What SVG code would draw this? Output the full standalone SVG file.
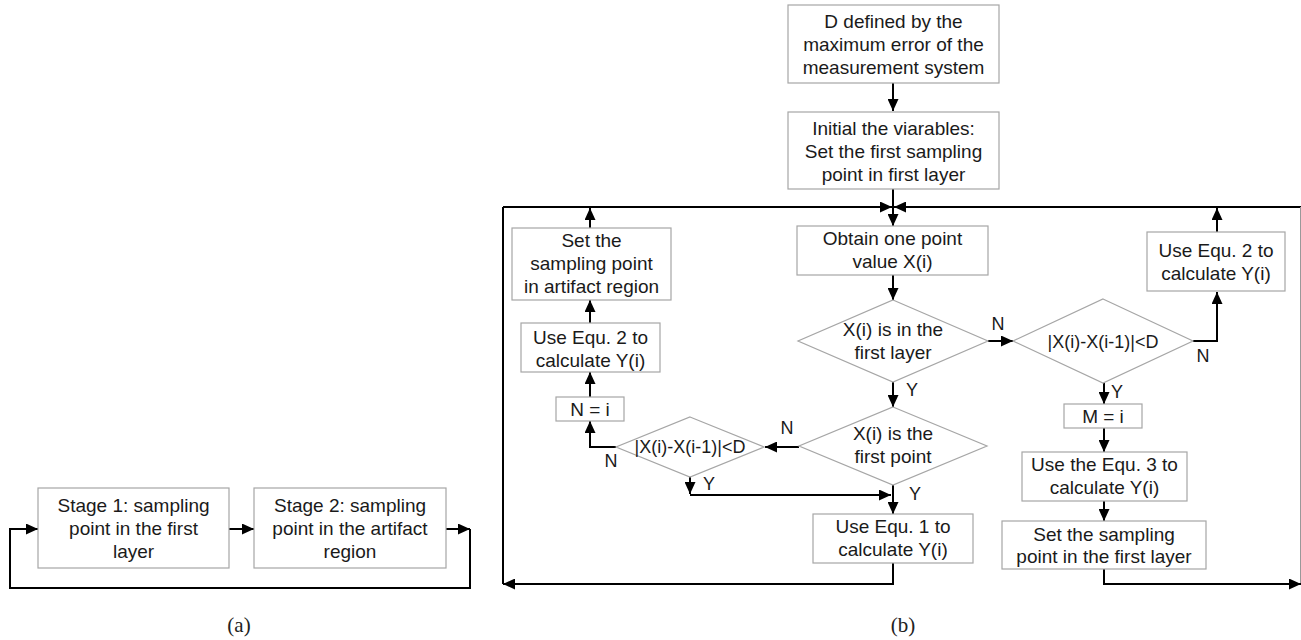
<svg xmlns="http://www.w3.org/2000/svg" width="1301" height="640" viewBox="0 0 1301 640">
<style>
.box{fill:#fff;stroke:#a6a6a6;stroke-width:1.2}
.t{font-family:"Liberation Sans",Arial,sans-serif;font-size:19px;fill:#1a1a1a;text-anchor:middle}
.ts{font-family:"Liberation Sans",Arial,sans-serif;font-size:18px;fill:#1a1a1a;text-anchor:middle}
.lb{font-family:"Liberation Sans",Arial,sans-serif;font-size:18px;fill:#1a1a1a;text-anchor:middle}
.cap{font-family:"Liberation Serif","Times New Roman",serif;font-size:21px;fill:#222;text-anchor:middle}
.c{fill:none;stroke:#000;stroke-width:2}
.ca{fill:none;stroke:#000;stroke-width:2;marker-end:url(#ah)}
</style>
<defs>
<marker id="ah" markerWidth="13" markerHeight="11" refX="12" refY="5.5" orient="auto" markerUnits="userSpaceOnUse">
<path d="M0,0 L12,5.5 L0,11 z" fill="#000"/>
</marker>
</defs>
<rect width="1301" height="640" fill="#fff"/>

<g id="connectors">
<!-- (a) -->
<path class="ca" d="M229,529 H254"/>
<path class="ca" d="M446,529 H470"/>
<path class="ca" d="M470,529 V588 H10 V529 H38"/>
<!-- (b) -->
<path class="ca" d="M893,83 V111"/>
<path class="ca" d="M893,189 V226"/>
<path class="ca" d="M503,207 H892"/>
<path class="ca" d="M1301,207 H894"/>
<path class="ca" d="M893,563 V584 H503"/>
<path class="c" d="M503,584 V207"/>
<line x1="1300.5" y1="207" x2="1300.5" y2="584" stroke="#999" stroke-width="1"/>
<path class="ca" d="M1104,569 V584 H1301"/>
<path class="ca" d="M893,275 V300"/>
<path class="ca" d="M988,341 H1013"/>
<path class="ca" d="M1193,341 H1217 V292"/>
<path class="ca" d="M1217,232 V208"/>
<path class="ca" d="M1104,383 V404"/>
<path class="ca" d="M1104,428 V452"/>
<path class="ca" d="M1104,501 V521"/>
<path class="ca" d="M893,382 V407"/>
<path class="ca" d="M799,447 H765"/>
<path class="ca" d="M893,485 V514"/>
<path class="ca" d="M616,447 H590 V421"/>
<path class="ca" d="M590,397 V372"/>
<path class="ca" d="M590,323 V300"/>
<path class="ca" d="M590,228 V208"/>
<path class="ca" d="M690,476 V494"/>
<path class="ca" d="M690,495 H891"/>
</g>

<g id="stage1">
<rect class="box" x="38" y="488" width="191" height="80"/>
<text class="t" x="133.5" y="511.5">Stage 1: sampling</text>
<text class="t" x="133.5" y="534.5">point in the first</text>
<text class="t" x="133.5" y="557.5">layer</text>
</g>
<g id="stage2">
<rect class="box" x="254" y="488" width="192" height="80"/>
<text class="t" x="350" y="511.5">Stage 2: sampling</text>
<text class="t" x="350" y="534.5">point in the artifact</text>
<text class="t" x="350" y="557.5">region</text>
</g>
<text class="cap" x="239" y="632">(a)</text>

<g id="defineD">
<rect class="box" x="788" y="5" width="211" height="78"/>
<text class="t" x="893.5" y="28">D defined by the</text>
<text class="t" x="893.5" y="51">maximum error of the</text>
<text class="t" x="893.5" y="74">measurement system</text>
</g>
<g id="init">
<rect class="box" x="788" y="112" width="211" height="77"/>
<text class="t" x="893.5" y="135">Initial the viarables:</text>
<text class="t" x="893.5" y="158">Set the first sampling</text>
<text class="t" x="893.5" y="181">point in first layer</text>
</g>
<g id="obtain">
<rect class="box" x="797" y="226" width="191" height="49"/>
<text class="t" x="892.5" y="245">Obtain one point</text>
<text class="t" x="892.5" y="268">value X(i)</text>
</g>
<g id="firstLayer">
<polygon class="box" points="893,300 988,341 893,382 798,341"/>
<text class="t" x="893" y="336">X(i) is in the</text>
<text class="t" x="893" y="358.5">first layer</text>
</g>
<g id="diffRight">
<polygon class="box" points="1103,299 1193,341 1103,383 1013,341"/>
<text class="ts" x="1103" y="348">|X(i)-X(i-1)|&lt;D</text>
</g>
<g id="equ2Right">
<rect class="box" x="1147" y="232" width="138" height="59"/>
<text class="t" x="1216" y="257">Use Equ. 2 to</text>
<text class="t" x="1216" y="280">calculate Y(i)</text>
</g>
<g id="mEqI">
<rect class="box" x="1064" y="404" width="78" height="24"/>
<text class="t" x="1103" y="423">M = i</text>
</g>
<g id="equ3">
<rect class="box" x="1022" y="452" width="165" height="49"/>
<text class="t" x="1104.5" y="471">Use the Equ. 3 to</text>
<text class="t" x="1104.5" y="494">calculate Y(i)</text>
</g>
<g id="setFirst">
<rect class="box" x="1002" y="521" width="204" height="48"/>
<text class="t" x="1104" y="540.5">Set the sampling</text>
<text class="t" x="1104" y="563">point in the first layer</text>
</g>
<g id="firstPoint">
<polygon class="box" points="893,407 987,446 893,485 799,446"/>
<text class="t" x="893" y="440">X(i) is the</text>
<text class="t" x="893" y="463">first point</text>
</g>
<g id="equ1">
<rect class="box" x="813" y="514" width="160" height="49"/>
<text class="t" x="893" y="533">Use Equ. 1 to</text>
<text class="t" x="893" y="556">calculate Y(i)</text>
</g>
<g id="diffLeft">
<polygon class="box" points="690,417 764,447 690,477 616,447"/>
<text class="ts" x="690" y="453">|X(i)-X(i-1)|&lt;D</text>
</g>
<g id="nEqI">
<rect class="box" x="556" y="397" width="68" height="24"/>
<text class="t" x="590" y="416">N = i</text>
</g>
<g id="equ2Left">
<rect class="box" x="521" y="323" width="139" height="49"/>
<text class="t" x="590.5" y="344">Use Equ. 2 to</text>
<text class="t" x="590.5" y="367">calculate Y(i)</text>
</g>
<g id="setArtifact">
<rect class="box" x="512" y="228" width="159" height="72"/>
<text class="t" x="591.5" y="247">Set the</text>
<text class="t" x="591.5" y="270">sampling point</text>
<text class="t" x="591.5" y="293">in artifact region</text>
</g>

<g id="labels">
<text class="lb" x="998" y="330">N</text>
<text class="lb" x="912" y="396">Y</text>
<text class="lb" x="1203" y="362">N</text>
<text class="lb" x="1117" y="398">Y</text>
<text class="lb" x="787" y="434">N</text>
<text class="lb" x="915" y="500">Y</text>
<text class="lb" x="611" y="467">N</text>
<text class="lb" x="709" y="490">Y</text>
</g>
<text class="cap" x="903" y="632">(b)</text>
</svg>
